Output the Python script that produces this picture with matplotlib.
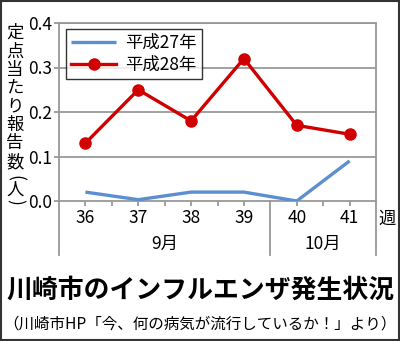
import matplotlib
matplotlib.use("Agg")
import matplotlib.pyplot as plt
from matplotlib.patches import Rectangle
from matplotlib.transforms import blended_transform_factory

plt.rcParams['font.family'] = ['Noto Sans CJK JP', 'DejaVu Sans']

weeks = ['36', '37', '38', '39', '40', '41']
h27 = [0.02, 0.003, 0.02, 0.02, 0.0, 0.09]
h28 = [0.13, 0.25, 0.18, 0.32, 0.17, 0.15]
series_names = ['平成27年', '平成28年']
months = ['9月', '10月']
month_spans = [(0, 4), (4, 6)]
yticks = [0.0, 0.1, 0.2, 0.3, 0.4]
ylabel_chars = ['定', '点', '当', 'た', 'り', '報', '告', '数', '(', '人', ')']
title = '川崎市のインフルエンザ発生状況'
subtitle = '（川崎市HP「今、何の病気が流行しているか！」より）'

W, H = 400, 341
fig = plt.figure(figsize=(W / 100, H / 100), dpi=100)

def fx(px):
    return px / W

def fy(py):
    return 1 - py / H

ax = fig.add_axes([fx(59), fy(201), fx(376) - fx(59), fy(23) - fy(201)])

gray = '#999999'
blue = '#5b8fd0'
red = '#d00000'

xs = [i + 0.5 for i in range(len(weeks))]
ax.plot(xs, h27, color=blue, lw=2.4, solid_capstyle='butt', label=series_names[0], zorder=3)
ax.plot(xs, h28, color=red, lw=2.4, marker='o', ms=8, label=series_names[1], zorder=4)

ax.set_xlim(0, len(weeks))
ax.set_ylim(0, 0.4)
ax.set_yticks(yticks)
ax.set_yticklabels([f'{v:.1f}' for v in yticks], fontsize=12.5)
for v in yticks[1:]:
    ax.axhline(v, color=gray, lw=1.3, zorder=1)

tick_pos = [i * 0.5 for i in range(1, 2 * len(weeks)) if i != 8]
ax.set_xticks(tick_pos)
ax.set_xticklabels([weeks[int(p - 0.5)] if abs(p - int(p) - 0.5) < 1e-9 else '' for p in tick_pos],
                   fontsize=12.5)
ax.tick_params(axis='both', colors=gray, length=3.5, width=1.3, pad=2, labelcolor='black')
ax.tick_params(axis='y', pad=1.5)

for s in ax.spines.values():
    s.set_color(gray)
    s.set_linewidth(1.3)

trans = blended_transform_factory(ax.transData, ax.transAxes)
ext = -(255 - 201) / (201 - 23)
for xv in [0, 4, 6]:
    ax.plot([xv, xv], [0, ext], color=gray, lw=1.3, transform=trans, clip_on=False)

for m, (a, b) in zip(months, month_spans):
    ax.text((a + b) / 2, -(244 - 201) / (201 - 23), m, transform=trans,
            ha='center', va='center', fontsize=12.5)

fig.text(fx(387), fy(219), '週', ha='center', va='center', fontsize=12.5)

leg = ax.legend(loc='upper left', bbox_to_anchor=(fx(66), fy(29)),
                bbox_transform=fig.transFigure, fontsize=12.5, frameon=True,
                fancybox=False, edgecolor='black', borderpad=0.3, labelspacing=0.2,
                handlelength=2.6, handletextpad=0.5, borderaxespad=0)
leg.get_frame().set_linewidth(1.0)

ycent = [33, 52, 70, 88, 106, 125, 143, 162, 178, 190, 202]
for ch, yc in zip(ylabel_chars, ycent):
    if ch in '()':
        fig.text(fx(15), fy(yc), ch, ha='center', va='center', fontsize=12.5,
                 rotation=-90, rotation_mode='anchor')
    else:
        fig.text(fx(15), fy(yc), ch, ha='center', va='center', fontsize=12.5)

fig.text(0.5, fy(290), title, ha='center', va='center', fontsize=18.6, fontweight='bold')
fig.text(0.5, fy(324), subtitle, ha='center', va='center', fontsize=11.2)

fig.patches.append(Rectangle((fx(1), fy(340)), fx(398), fy(1) - fy(340),
                             transform=fig.transFigure, fill=False,
                             edgecolor='#333333', lw=1.5))

fig.savefig('out.png', dpi=100)
